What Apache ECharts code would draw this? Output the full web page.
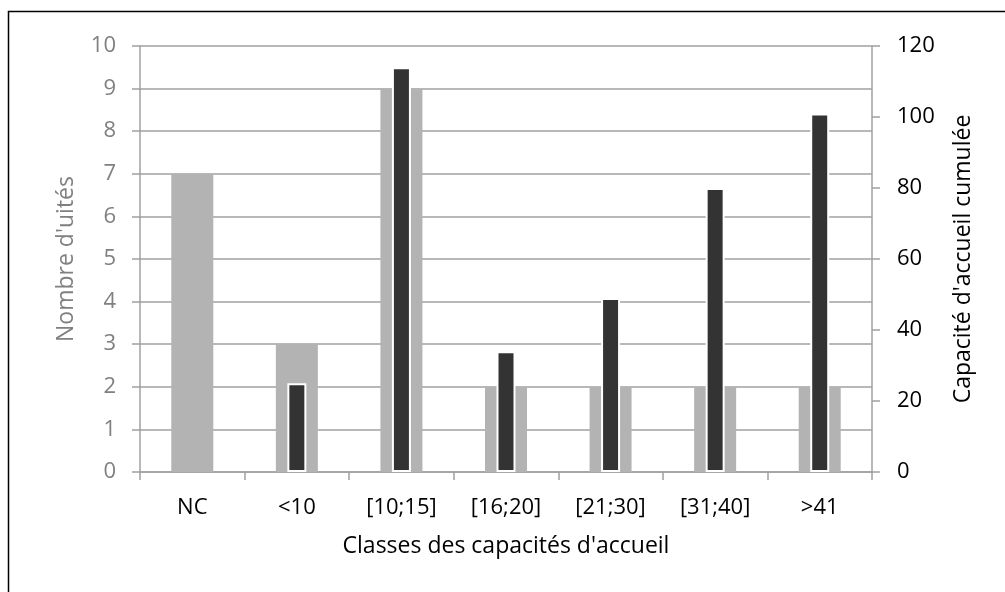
<!DOCTYPE html>
<html>
<head>
<meta charset="utf-8">
<script src="https://cdn.jsdelivr.net/npm/echarts@6/dist/echarts.min.js"></script>
<style>
html,body{margin:0;padding:0;background:#fff;}
#chart{width:1005px;height:592px;}
</style>
</head>
<body>
<div id="chart"></div>
<script>
const categories = ['NC', '<10', '[10;15]', '[16;20]', '[21;30]', '[31;40]', '>41'];
const nombreUnites = [7, 3, 9, 2, 2, 2, 2];
const capaciteCumulee = [null, 25, 114, 34, 49, 80, 101];
const leftTicks = { min: 0, max: 10, interval: 1 };
const rightTicks = { min: 0, max: 120, interval: 20 };

const FONT = '"Open Sans", Lato, sans-serif';
const AXIS_GRAY = '#a0a0a0';
const FS = 22;
const FS_TITLE = 23;

const chart = echarts.init(document.getElementById('chart'), null, { renderer: 'canvas' });
chart.setOption({
  animation: false,
  backgroundColor: '#ffffff',
  graphic: [{
    type: 'rect',
    shape: { x: 8.5, y: 11.5, width: 1100, height: 700 },
    style: { fill: 'none', stroke: '#000', lineWidth: 1.5 },
    silent: true
  }],
  grid: { left: 140, right: 133, top: 46, bottom: 120, containLabel: false },
  xAxis: [{
    type: 'category',
    data: categories,
    boundaryGap: true,
    name: "Classes des capacités d'accueil",
    nameLocation: 'middle',
    nameGap: 63,
    nameTextStyle: { color: '#000', fontSize: FS_TITLE, fontFamily: FONT },
    axisLine: { show: true, lineStyle: { color: AXIS_GRAY, width: 1.5 } },
    axisTick: { show: true, length: 8, lineStyle: { color: AXIS_GRAY, width: 1.5 } },
    axisLabel: { color: '#000', fontSize: FS, fontFamily: FONT, margin: 25, interval: 0 },
    splitLine: { show: false }
  }, {
    type: 'category',
    data: categories,
    show: false,
    position: 'bottom'
  }],
  yAxis: [{
    type: 'value',
    min: leftTicks.min, max: leftTicks.max, interval: leftTicks.interval,
    position: 'left',
    name: "Nombre d'uités",
    nameLocation: 'middle',
    nameRotate: 90,
    nameGap: 62,
    nameTextStyle: { color: '#808080', fontSize: FS_TITLE, fontFamily: FONT },
    axisLine: { show: true, lineStyle: { color: AXIS_GRAY, width: 1.5 } },
    axisTick: { show: true, length: 8, lineStyle: { color: AXIS_GRAY, width: 1.5 } },
    axisLabel: { color: '#808080', fontSize: FS, fontFamily: FONT, margin: 24 },
    splitLine: { show: true, lineStyle: { color: AXIS_GRAY, width: 1.5 } }
  }, {
    type: 'value',
    min: rightTicks.min, max: rightTicks.max, interval: rightTicks.interval,
    position: 'right',
    name: "Capacité d'accueil cumulée",
    nameLocation: 'middle',
    nameRotate: 90,
    nameGap: 80,
    nameTextStyle: { color: '#000', fontSize: FS_TITLE, fontFamily: FONT },
    axisLine: { show: true, lineStyle: { color: AXIS_GRAY, width: 1.5 } },
    axisTick: { show: true, length: 8, lineStyle: { color: AXIS_GRAY, width: 1.5 } },
    axisLabel: { color: '#000', fontSize: FS, fontFamily: FONT, margin: 25 },
    splitLine: { show: false }
  }],
  series: [{
    name: "Nombre d'uités",
    type: 'bar',
    xAxisIndex: 0,
    yAxisIndex: 0,
    data: nombreUnites,
    barWidth: 42,
    itemStyle: { color: '#b3b3b3' },
    z: 2
  }, {
    name: "Capacité d'accueil cumulée",
    type: 'bar',
    xAxisIndex: 1,
    yAxisIndex: 1,
    data: capaciteCumulee,
    barWidth: 19,
    itemStyle: { color: '#333333', borderColor: '#ffffff', borderWidth: 2 },
    z: 3
  }]
});
</script>
</body>
</html>
